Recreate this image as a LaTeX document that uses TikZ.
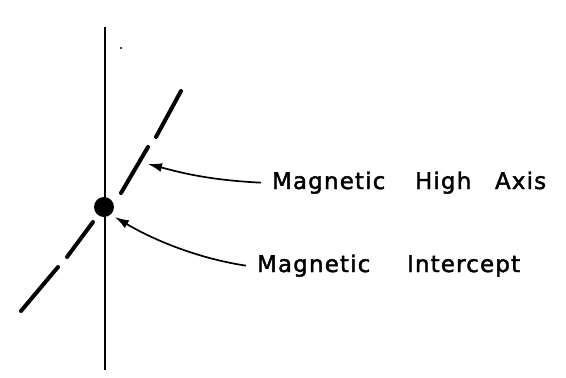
\documentclass[tikz,border=0pt]{standalone}
\usepackage{fontspec}
\setmainfont{DejaVu Sans}
\usetikzlibrary{arrows.meta}
\tikzset{
  lbl/.style={anchor=base west, inner sep=0pt, outer sep=0pt, font=\fontsize{23}{27}\selectfont\addfontfeatures{LetterSpace=5,FakeBold=1.8}},
  dashseg/.style={line width=4pt, line cap=round},
  pointer/.style={line width=1.7pt, -{Latex[length=14pt,width=9pt]}},
}
\begin{document}
\begin{tikzpicture}[x=1pt,y=-1pt]
\useasboundingbox (0,0) rectangle (566,378);
% vertical axis
\coordinate (vtop) at (105,27);
\coordinate (vbot) at (105,370);
\draw[line width=1.8pt] (vtop) -- (vbot);
% stray dot
\fill (121,48) circle (1.2);
% dashed high axis
\coordinate (a1) at (181,91);  \coordinate (a2) at (156,137);
\coordinate (b1) at (148,147); \coordinate (b2) at (121,193);
\coordinate (c1) at (93,222);  \coordinate (c2) at (67,257);
\coordinate (d1) at (58,267);  \coordinate (d2) at (21,311);
\draw[dashseg] (a1) -- (a2);
\draw[dashseg] (b1) -- (b2);
\draw[dashseg] (c1) -- (c2);
\draw[dashseg] (d1) -- (d2);
% intercept dot
\node (dot) [circle, fill, inner sep=0pt, minimum size=20pt] at (104,207) {};
% labels
\node (h1) [lbl] at (272,189) {Magnetic};
\node (h2) [lbl] at (415,189) {High};
\node (h3) [lbl] at (495,189) {Axis};
\node (i1) [lbl] at (257,272) {Magnetic};
\node (i2) [lbl] at (407,272) {Intercept};
% pointers
\coordinate (tipH) at (148,164);
\coordinate (tipI) at (115,217);
\draw[pointer] ([xshift=-11pt]h1.west) .. controls (205,180) and (175,171) .. (tipH);
\draw[pointer] ([xshift=-11pt]i1.west) .. controls (195,258) and (150,238) .. (tipI);
\end{tikzpicture}
\end{document}
